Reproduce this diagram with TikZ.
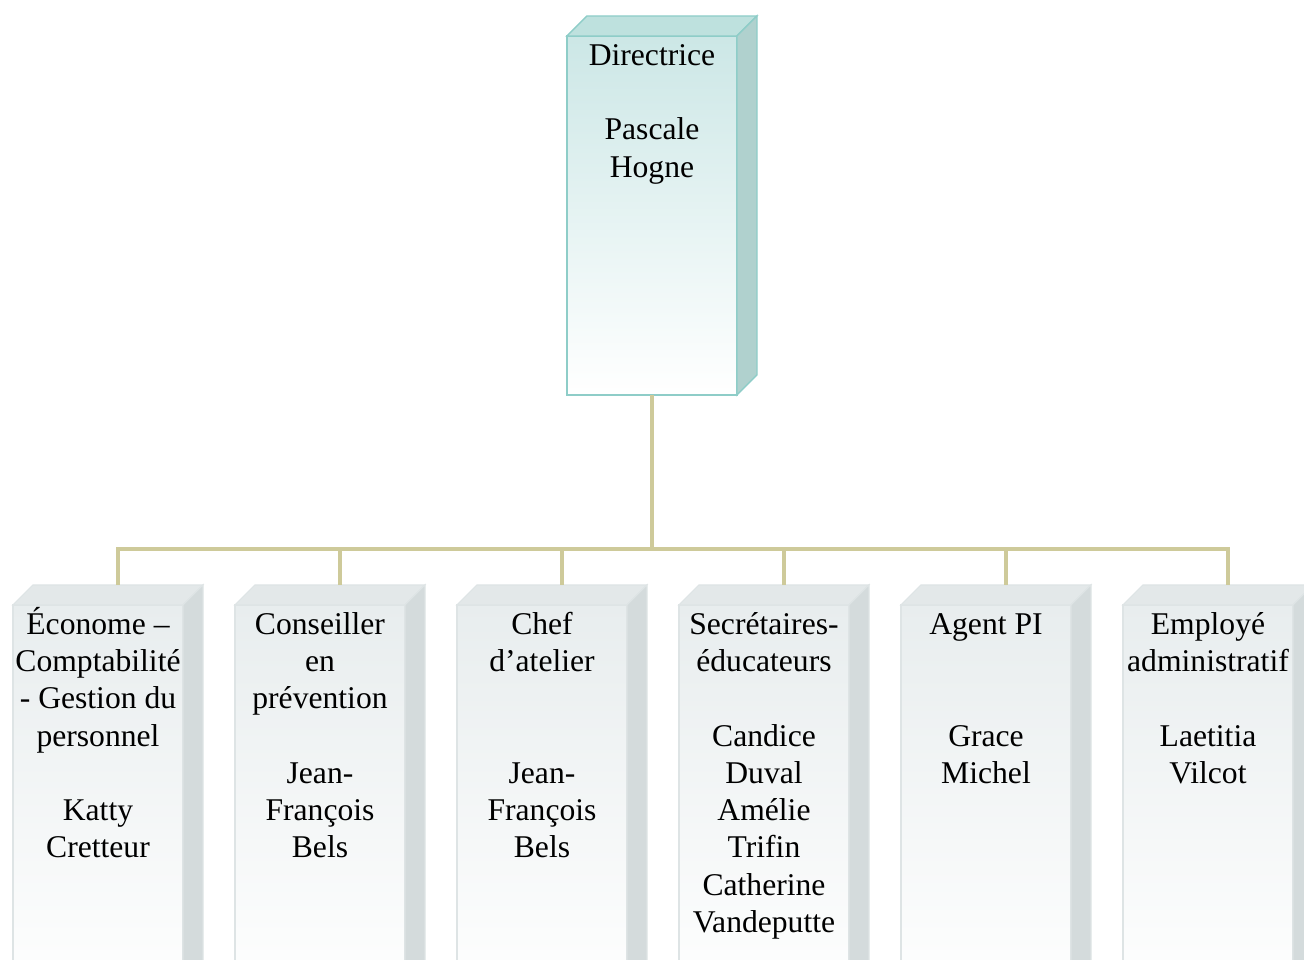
\documentclass[tikz,border=0pt]{standalone}
\usepackage{fontspec}
\setmainfont{Liberation Serif}
\usepackage{xcolor}
\usetikzlibrary{positioning}

\definecolor{tealfront}{RGB}{204,231,230}
\definecolor{tealtop}{RGB}{190,225,222}
\definecolor{tealside}{RGB}{176,209,206}
\definecolor{tealline}{RGB}{142,205,200}
\definecolor{greyfront}{RGB}{232,237,238}
\definecolor{greytop}{RGB}{227,232,233}
\definecolor{greyside}{RGB}{212,219,220}
\definecolor{greyline}{RGB}{222,228,229}
\definecolor{khaki}{RGB}{206,202,154}

% strut for the first line of each box
\newcommand{\firstline}{\rule{0pt}{16.5pt}}

\tikzset{
    headbox/.style={rectangle, draw=tealline, line width=0.8pt, top color=tealfront,
        middle color=tealfront!25!white, bottom color=white,
        minimum width=3.4cm, minimum height=7.18cm, outer sep=0pt},
    staffbox/.style={rectangle, draw=greyline, line width=0.6pt, top color=greyfront,
        bottom color=white, minimum width=3.4cm, minimum height=8cm, outer sep=0pt},
    boxtext/.style={align=center, inner sep=0pt, font=\fontsize{18}{21.2}\selectfont},
    link/.style={draw=khaki, line width=2.8pt}
}

\begin{document}
\begin{tikzpicture}
    \useasboundingbox (0,0) rectangle (26.08,19.2);
    \clip (0,0) rectangle (26.08,19.2);

    % head of the school
    \node[headbox] (dir) at (13.04,14.89) {};
    \fill[tealtop, draw=tealline, line width=0.8pt] (dir.north west) -- ++(0.4,0.4) -- ++(3.4,0) -- (dir.north east) -- cycle;
    \fill[tealside, draw=tealline, line width=0.8pt] (dir.north east) -- ++(0.4,0.4) -- ++(0,-7.18) -- (dir.south east) -- cycle;
    \node[boxtext, below=0cm of dir.north] (dir-t) {\firstline Directrice\\ \mbox{}\\ Pascale\\ Hogne};

    % staff
    \node[staffbox] (eco) at (1.96,3.1) {};
    \node[staffbox, right=1.04cm of eco] (cons) {};
    \node[staffbox, right=1.04cm of cons] (chef) {};
    \node[staffbox, right=1.04cm of chef] (secr) {};
    \node[staffbox, right=1.04cm of secr] (agent) {};
    \node[staffbox, right=1.04cm of agent] (empl) {};

    \foreach \b in {eco,cons,chef,secr,agent,empl} {
        \fill[greytop, draw=greyline, line width=0.6pt] (\b.north west) -- ++(0.4,0.4) -- ++(3.4,0) -- (\b.north east) -- cycle;
        \fill[greyside, draw=greyline, line width=0.6pt] (\b.north east) -- ++(0.4,0.4) -- ++(0,-8) -- (\b.south east) -- cycle;
    }

    \node[boxtext, below=0cm of eco.north] (eco-t) {\firstline Économe --\\ Comptabilité\\ - Gestion du\\ personnel\\ \mbox{}\\ Katty\\ Cretteur};
    \node[boxtext, below=0cm of cons.north] (cons-t) {\firstline Conseiller\\ en\\ prévention\\ \mbox{}\\ Jean-\\ François\\ Bels};
    \node[boxtext, below=0cm of chef.north] (chef-t) {\firstline Chef\\ d’atelier\\ \mbox{}\\ \mbox{}\\ Jean-\\ François\\ Bels};
    \node[boxtext, below=0cm of secr.north] (secr-t) {\firstline Secrétaires-\\ éducateurs\\ \mbox{}\\ Candice\\ Duval\\ Amélie\\ Trifin\\ Catherine\\ Vandeputte};
    \node[boxtext, below=0cm of agent.north] (agent-t) {\firstline Agent PI\\ \mbox{}\\ \mbox{}\\ Grace\\ Michel};
    \node[boxtext, below=0cm of empl.north] (empl-t) {\firstline Employé\\ administratif\\ \mbox{}\\ Laetitia\\ Vilcot};

    % connectors
    \draw[link] (dir.south) -- ++(0,-3.08) coordinate (hub);
    \foreach \b in {eco,cons,chef,secr,agent,empl}
        \draw[link] (hub) -| ([xshift=0.4cm, yshift=0.4cm]\b.north);
\end{tikzpicture}
\end{document}
